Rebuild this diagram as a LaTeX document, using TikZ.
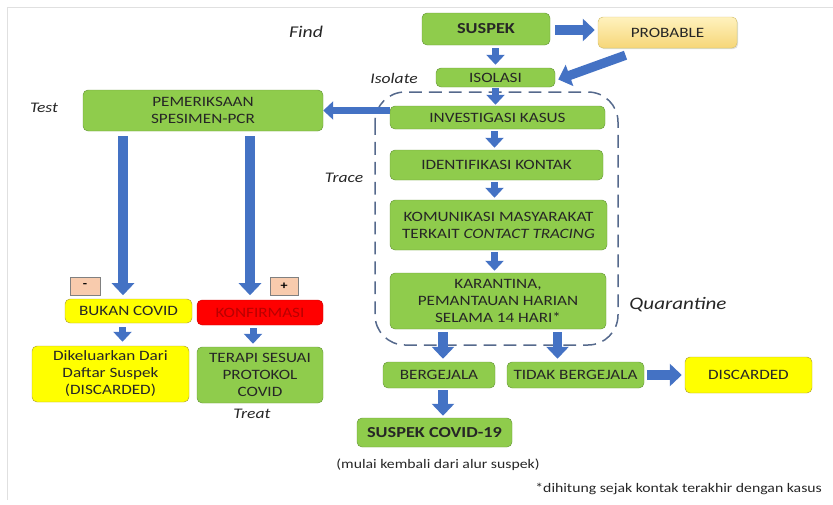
\documentclass[tikz,border=0pt]{standalone}
\usepackage{fontspec}
\setmainfont{Carlito}[FakeStretch=1.2]
\usepackage{tikz}
\usetikzlibrary{arrows.meta,shadows}
\definecolor{dgreen}{RGB}{104,152,58}
\definecolor{lgreen}{RGB}{143,204,76}
\definecolor{ablue}{RGB}{68,114,196}
\definecolor{kuning}{RGB}{255,255,0}
\definecolor{dkuning}{RGB}{175,160,50}
\definecolor{peach}{RGB}{248,203,173}
\definecolor{dred}{RGB}{185,0,0}
\definecolor{garis}{RGB}{85,105,140}

\tikzset{
  sz/.style 2 args={minimum width=#1*0.03cm, minimum height=#2*0.03cm},
  gbox/.style={draw=dgreen, fill=lgreen, rounded corners=0.15cm, inner sep=0pt, align=center, text=black!85},
  ybox/.style={gbox, draw=dkuning, fill=kuning},
  tanda/.style={draw=black!50, fill=peach, inner sep=0pt, font=\fontsize{10}{12}\selectfont\bfseries},
  blok/.style={ablue, line width=0.28cm, -{Triangle[width=0.66cm,length=0.36cm]}},
  kecil/.style={ablue, line width=0.21cm, -{Triangle[width=0.54cm,length=0.3cm]}},
  lbl/.style={font=\fontsize{12.5}{15}\selectfont\itshape, text=black!85},
  ket/.style={font=\fontsize{11.2}{13}\selectfont, text=black!85}
}

\begin{document}
\begin{tikzpicture}[x=0.03cm, y=-0.03cm, font=\fontsize{12.2}{14.5}\selectfont]
\useasboundingbox (0,0) rectangle (833,505);
\draw[black!12] (7,500) -- (7,7) -- (833,7);

% kotak karantina
\draw[garis, line width=0.045cm, dash pattern=on 11pt off 6pt, rounded corners=0.9cm] (375,92) rectangle (618,345);

% alur utama
\node[gbox, sz={128}{32}, font=\fontsize{13}{15}\selectfont\bfseries] (suspek) at (486,29) {SUSPEK};
\node[gbox, sz={139}{31}, draw={rgb,255:red,220;green,195;blue,120}, top color={rgb,255:red,255;green,242;blue,190}, bottom color={rgb,255:red,246;green,214;blue,120}, drop shadow={opacity=0.25, shadow xshift=1pt, shadow yshift=-1pt}] (probable) at (667.5,32.5) {PROBABLE};
\node[gbox, sz={119}{19}] (isolasi) at (495.5,77.5) {ISOLASI};
\node[gbox, sz={215}{23}] (investigasi) at (497.5,117.5) {INVESTIGASI KASUS};
\node[gbox, sz={213}{30}] (identifikasi) at (496.5,165) {IDENTIFIKASI KONTAK};
\node[gbox, sz={217}{50}] (komunikasi) at (498.5,225) {KOMUNIKASI MASYARAKAT\\TERKAIT \textit{CONTACT TRACING}};
\node[gbox, sz={216}{56}] (karantina) at (498,301) {KARANTINA,\\PEMANTAUAN HARIAN\\SELAMA 14 HARI*};

% cabang tes
\node[gbox, sz={240}{41}] (pemeriksaan) at (203,110.5) {PEMERIKSAAN\\SPESIMEN-PCR};
\node[tanda, sz={30}{18}] (minus) at (85,286) {-};
\node[tanda, sz={28}{18}] (plus) at (284,286) {+};
\node[ybox, sz={127}{24}] (bukan) at (128.5,311) {BUKAN COVID};
\node[gbox, sz={126}{25}, fill=red, draw=red!80!black, text=dred] (konfirmasi) at (260,312.5) {KONFIRMASI};
\node[ybox, sz={157}{56}] (dikeluarkan) at (110.5,374) {Dikeluarkan Dari\\Daftar Suspek\\(DISCARDED)};
\node[gbox, sz={126}{56}] (terapi) at (260,375) {TERAPI SESUAI\\PROTOKOL\\COVID};

% hasil karantina
\node[gbox, sz={112}{26}] (bergejala) at (439,375) {BERGEJALA};
\node[gbox, sz={137}{26}] (tidak) at (575.5,375) {TIDAK BERGEJALA};
\node[ybox, sz={127}{36}] (discarded) at (748.5,375) {DISCARDED};
\node[gbox, sz={155}{29}, font=\fontsize{13}{15}\selectfont\bfseries] (suspekcovid) at (434.5,432.5) {SUSPEK COVID-19};

% label
\node[lbl, font=\fontsize{14}{16}\selectfont\itshape] (find) at (306,32) {Find};
\node[lbl, anchor=east] (isolate) at (422,78) {Isolate};
\node[lbl] (test) at (44,108) {Test};
\node[lbl] (trace) at (344,178) {Trace};
\node[lbl, font=\fontsize{15}{17}\selectfont\itshape] (quarantine) at (678,305) {Quarantine};
\node[lbl] (treat) at (252,414) {Treat};
\node[ket] (mulai) at (438,465) {(mulai kembali dari alur suspek)};
\node[ket, anchor=east] (catatan) at (826,489) {*dihitung sejak kontak terakhir dengan kasus};

% panah
\draw[blok] ([shift={(5,1)}]suspek.east) -- ([shift={(-3,1)}]suspek.east -| probable.west);
\draw[kecil] ([shift={(0,3)}]isolasi.north |- suspek.south) -- ([shift={(0,-3)}]isolasi.north);
\draw[blok] ([shift={(-42,7)}]probable.south) -- ([shift={(3,2)}]isolasi.east);
\draw[kecil] ([shift={(0,1)}]isolasi.south) -- ([shift={(0,-1)}]isolasi.south |- investigasi.north);
\draw[kecil] ([shift={(-3,2)}]investigasi.south) -- ([shift={(-3,-2)}]investigasi.south |- identifikasi.north);
\draw[kecil] ([shift={(-2,2)}]identifikasi.south) -- ([shift={(-2,-2)}]identifikasi.south |- komunikasi.north);
\draw[kecil] ([shift={(-4,2)}]komunikasi.south) -- ([shift={(-4,-2)}]komunikasi.south |- karantina.north);
\draw[kecil] (investigasi.west |- pemeriksaan.east) -- (pemeriksaan.east);

\coordinate (kiri) at ([shift={(-80,5)}]pemeriksaan.south);
\coordinate (kanan) at ([shift={(47,5)}]pemeriksaan.south);
\draw[blok] (kiri) -- (kiri |- minus.south);
\draw[blok] (kanan) -- (kanan |- plus.south);
\draw[kecil] ([shift={(-6,4)}]bukan.south) -- ([shift={(-6,-4)}]bukan.south |- dikeluarkan.north);
\draw[kecil] ([shift={(-7,3)}]konfirmasi.south) -- ([shift={(-7,-3)}]konfirmasi.south |- terapi.north);

\draw[blok] ([shift={(4,3)}]bergejala.north |- karantina.south) -- ([shift={(4,-3)}]bergejala.north);
\draw[blok] ([shift={(-18,3)}]tidak.north |- karantina.south) -- ([shift={(-18,-3)}]tidak.north);
\draw[blok] ([shift={(4,2)}]bergejala.south) -- ([shift={(4,-2)}]bergejala.south |- suspekcovid.north);
\draw[blok] ([shift={(3,0)}]tidak.east) -- ([shift={(-3,0)}]tidak.east -| discarded.west);
\end{tikzpicture}
\end{document}
